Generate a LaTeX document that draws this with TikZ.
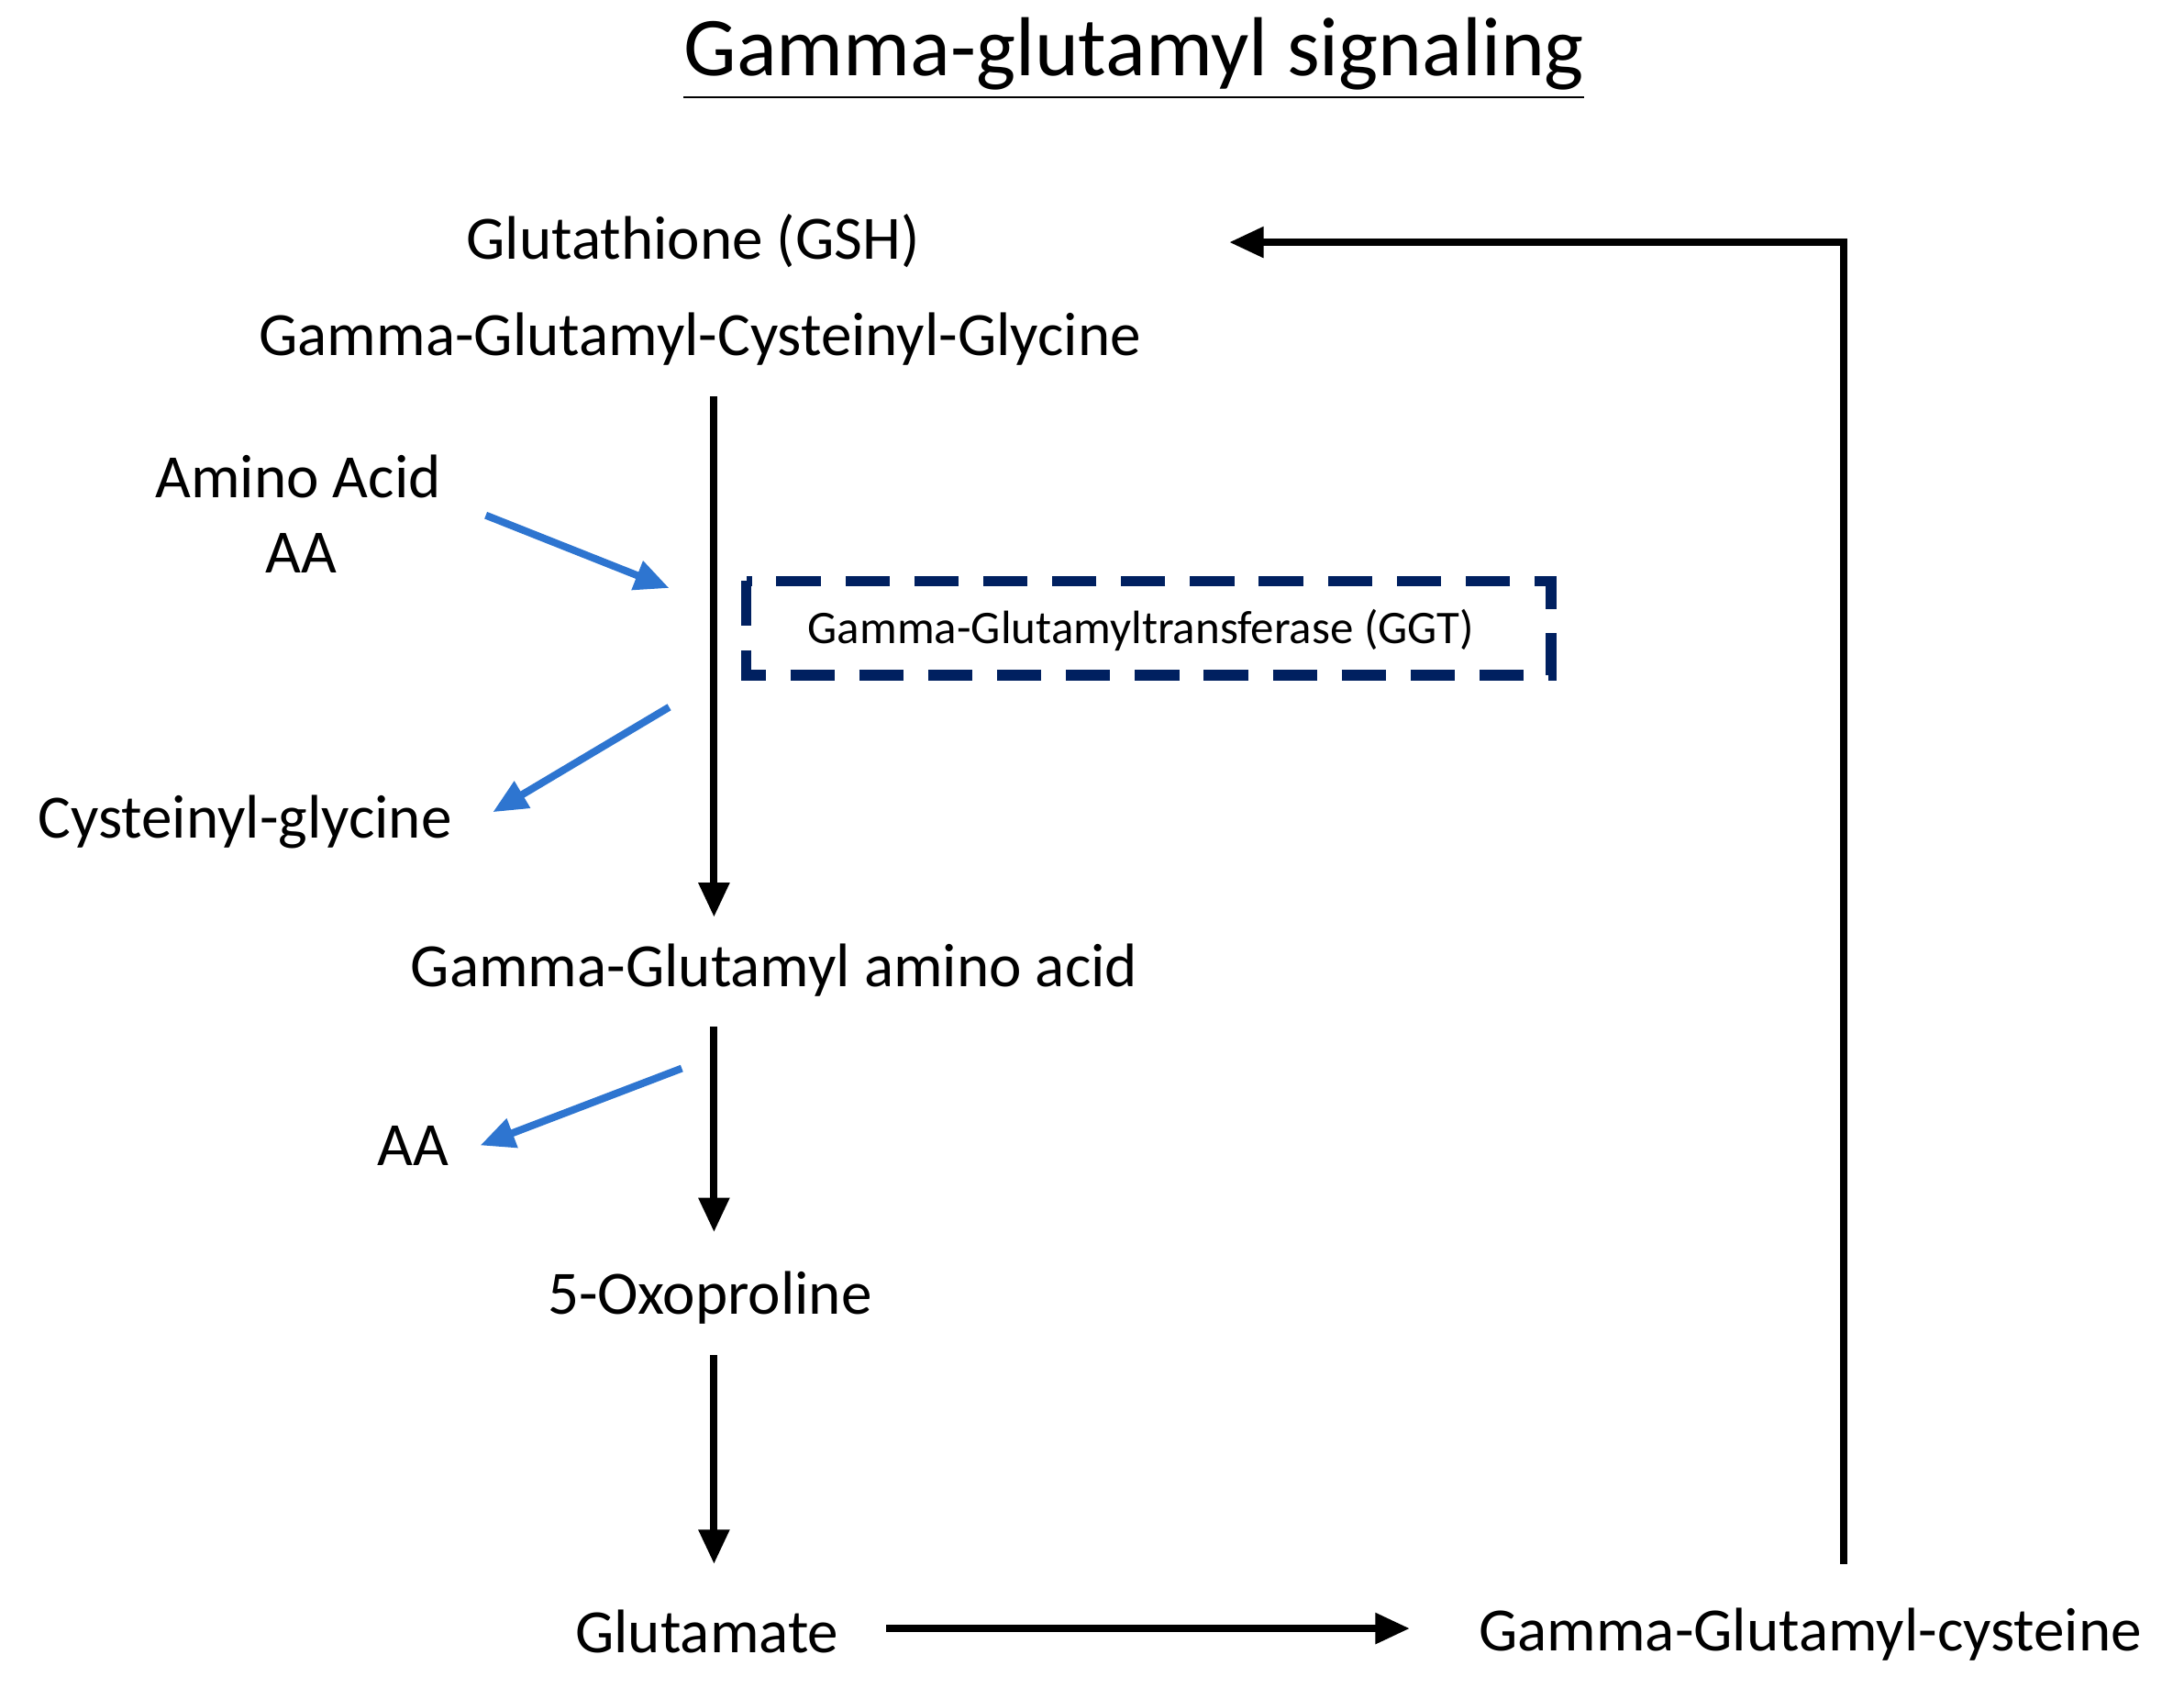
\documentclass[tikz,border=0pt]{standalone}
\usepackage{fontspec}
\setmainfont{Carlito}
\usetikzlibrary{arrows.meta}
\definecolor{blueArr}{RGB}{46,117,208}
\definecolor{navy}{RGB}{0,32,96}
\begin{document}
\begin{tikzpicture}[x=0.01cm,y=-0.01cm,
  lbl/.style={font=\fontsize{12.5}{15}\selectfont, inner sep=0pt},
  main/.style={line width=1.5pt, -{Triangle[length=7pt,width=6pt]}},
  side/.style={line width=1.5pt, blueArr, -{Triangle[length=7pt,width=6pt]}}]
\useasboundingbox (0,0) rectangle (1560,1205);
% title
\node[font=\fontsize{17}{20}\selectfont, inner sep=0pt] (title) at (810,42) {\underline{Gamma-glutamyl signaling}};
% metabolites
\node[lbl] (gsh) at (495,172) {Glutathione (GSH)};
\node[lbl] (gcg) at (500,242) {Gamma-Glutamyl-Cysteinyl-Glycine};
\node[lbl] (aa1) at (213,340) {Amino Acid};
\node[lbl] (aa1b) at (215,395) {AA};
\node[lbl] (cys) at (175,587) {Cysteinyl-glycine};
\node[lbl] (gaa) at (553,693) {Gamma-Glutamyl amino acid};
\node[lbl] (aa2) at (295,818) {AA};
\node[lbl] (oxo) at (507,927) {5-Oxoproline};
\node[lbl] (glu) at (505,1165) {Glutamate};
\node[lbl] (gcys) at (1293,1167) {Gamma-Glutamyl-cysteine};
% enzyme
\draw[navy, line width=2.2pt, dash pattern=on 9pt off 5pt] (533,415) rectangle (1108,482);
\node[font=\fontsize{9.5}{11}\selectfont, inner sep=0pt] (ggt) at (815,450) {Gamma-Glutamyltransferase (GGT)};
% coordinates for arrow ends
\coordinate (s1) at (510,283); \coordinate (e1) at (510,655);
\coordinate (s2) at (510,733); \coordinate (e2) at (510,880);
\coordinate (s3) at (510,968); \coordinate (e3) at (510,1117);
\coordinate (s4) at (633,1163); \coordinate (e4) at (1007,1163);
\coordinate (r1) at (1317,1117); \coordinate (r2) at (1317,173); \coordinate (r3) at (878,173);
\coordinate (b1s) at (347,368); \coordinate (b1e) at (478,420);
\coordinate (b2s) at (478,505); \coordinate (b2e) at (352,580);
\coordinate (b3s) at (487,763); \coordinate (b3e) at (343,818);
% main pathway
\draw[main] (s1) -- (e1);
\draw[main] (s2) -- (e2);
\draw[main] (s3) -- (e3);
\draw[main] (s4) -- (e4);
\draw[main] (r1) -- (r2) -- (r3);
% side reactions
\draw[side] (b1s) -- (b1e);
\draw[side] (b2s) -- (b2e);
\draw[side] (b3s) -- (b3e);
\end{tikzpicture}
\end{document}
